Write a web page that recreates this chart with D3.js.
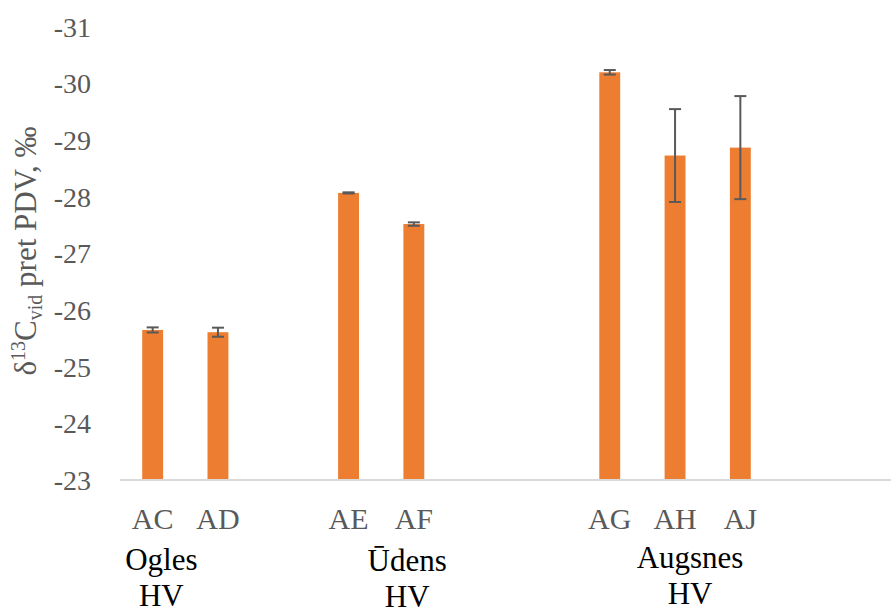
<!DOCTYPE html>
<html>
<head>
<meta charset="utf-8">
<script src="https://cdn.jsdelivr.net/npm/d3@7"></script>
<style>
  body { margin: 0; background: #fff; }
  svg { display: block; }
</style>
</head>
<body>
<div id="chart"></div>
<script>
// category slots (blank slots keep the gaps between groups)
var categories = ["AC", "AD", "_1", "AE", "AF", "_2", "_3", "AG", "AH", "AJ", "_4", "_5"];
var samples = ["AC", "AD", "AE", "AF", "AG", "AH", "AJ"];
var values = [-25.65, -25.61, -28.07, -27.52, -30.2, -28.73, -28.87];
var errors = [0.045, 0.08, 0.01, 0.03, 0.04, 0.82, 0.91];
var yTicks = [-23, -24, -25, -26, -27, -28, -29, -30, -31];
var groups = [
  {lines: ["Ogles", "HV"], from: "AC", to: "AD"},
  {lines: ["Ūdens", "HV"], from: "AE", to: "AF"},
  {lines: ["Augsnes", "HV"], from: "AG", to: "AJ"}
];

var w = 891, h = 614;
var margin = {top: 27, left: 120, bottom: 134};
var height = h - margin.top - margin.bottom;
var serif = "'Liberation Serif', 'Times New Roman', Times, serif";

var svg = d3.select("#chart")
  .append("svg")
    .attr("width", w)
    .attr("height", h)
    .style("font-family", serif);

var x = d3.scaleBand()
  .domain(categories)
  .range([margin.left, margin.left + 12 * 65.3])
  .paddingInner(0.68)
  .paddingOuter(0.34);

// values get more negative upwards
var y = d3.scaleLinear()
  .domain([-23, -31])
  .range([margin.top + height, margin.top]);

// y tick labels
svg.selectAll(".ytick")
  .data(yTicks)
  .enter()
  .append("text")
    .attr("class", "ytick")
    .attr("x", 91)
    .attr("y", function(d) { return y(d); })
    .attr("dy", "0.35em")
    .attr("text-anchor", "end")
    .attr("fill", "#595959")
    .style("font-size", "28px")
    .text(function(d) { return d; });

// axis title
var title = svg.append("text")
  .attr("transform", "translate(36," + 251 + ") rotate(-90)")
  .attr("text-anchor", "middle")
  .attr("fill", "#595959")
  .style("font-size", "31px");
title.append("tspan").text("δ");
title.append("tspan").attr("dy", -11).style("font-size", "20px").text("13");
title.append("tspan").attr("dy", 11).text("C");
title.append("tspan").attr("dy", 6).style("font-size", "20px").text("vid");
title.append("tspan").attr("dy", -6).text(" pret PDV, ‰");

// bars
svg.selectAll(".bar")
  .data(samples)
  .enter()
  .append("rect")
    .attr("class", "bar")
    .attr("x", function(d) { return x(d); })
    .attr("width", x.bandwidth())
    .attr("y", function(d, i) { return y(values[i]); })
    .attr("height", function(d, i) { return y(-23) - y(values[i]); })
    .attr("fill", "#ED7D31");

// x axis line
svg.append("line")
  .attr("x1", margin.left)
  .attr("x2", w)
  .attr("y1", y(-23))
  .attr("y2", y(-23))
  .attr("stroke", "#d9d9d9")
  .attr("stroke-width", 2);

// error bars
var eb = svg.selectAll(".err")
  .data(samples)
  .enter()
  .append("g")
    .attr("class", "err")
    .attr("stroke", "#595959")
    .attr("stroke-width", 2);
eb.append("line")
  .attr("x1", function(d) { return x(d) + x.bandwidth() / 2; })
  .attr("x2", function(d) { return x(d) + x.bandwidth() / 2; })
  .attr("y1", function(d, i) { return y(values[i] - errors[i]); })
  .attr("y2", function(d, i) { return y(values[i] + errors[i]); });
eb.selectAll(".cap")
  .data(function(d, i) { return [[d, values[i] - errors[i]], [d, values[i] + errors[i]]]; })
  .enter()
  .append("line")
    .attr("x1", function(d) { return x(d[0]) + x.bandwidth() / 2 - 6; })
    .attr("x2", function(d) { return x(d[0]) + x.bandwidth() / 2 + 6; })
    .attr("y1", function(d) { return y(d[1]); })
    .attr("y2", function(d) { return y(d[1]); });

// category labels
svg.selectAll(".xtick")
  .data(samples)
  .enter()
  .append("text")
    .attr("class", "xtick")
    .attr("x", function(d) { return x(d) + x.bandwidth() / 2; })
    .attr("y", 529)
    .attr("text-anchor", "middle")
    .attr("fill", "#595959")
    .style("font-size", "30px")
    .text(function(d) { return d; });

// group labels
var groupY = [[570, 606], [571, 607], [568, 604]];
var groupDx = [-24, 26, 15];
groups.forEach(function(g, i) {
  var cx = (x(g.from) + x(g.to) + x.bandwidth()) / 2 + groupDx[i];
  var t = svg.append("text")
    .attr("text-anchor", "middle")
    .attr("fill", "#000")
    .style("font-size", "31px");
  g.lines.forEach(function(line, j) {
    t.append("tspan")
      .attr("x", cx)
      .attr("y", groupY[i][j])
      .text(line);
  });
});
</script>
</body>
</html>
